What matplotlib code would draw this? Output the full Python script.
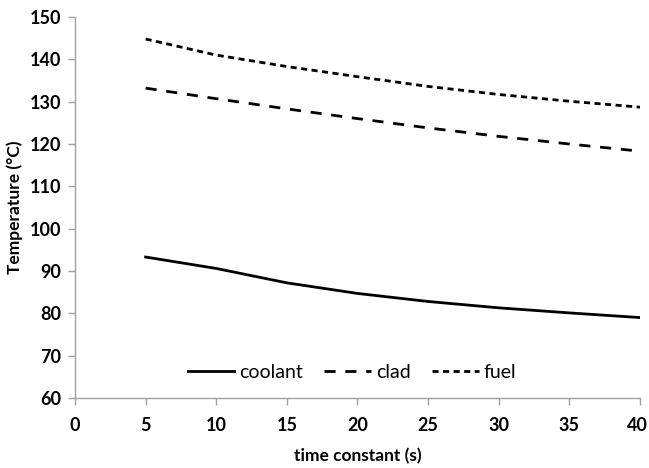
import matplotlib
matplotlib.use("Agg")
import matplotlib.pyplot as plt
from matplotlib.transforms import ScaledTranslation

time_constant = [5, 10, 15, 20, 25, 30, 35, 40]
coolant = [93.3, 90.6, 87.2, 84.7, 82.8, 81.3, 80.1, 79.0]
clad = [133.2, 130.7, 128.3, 126.0, 123.8, 121.8, 120.0, 118.3]
fuel = [144.8, 141.0, 138.3, 135.9, 133.6, 131.7, 130.1, 128.7]

x_ticks = [0, 5, 10, 15, 20, 25, 30, 35, 40]
y_ticks = [60, 70, 80, 90, 100, 110, 120, 130, 140, 150]

plt.rcParams['font.family'] = ['Lato', 'DejaVu Sans']

fig = plt.figure(figsize=(6.49, 4.68), dpi=100)
ax = fig.add_axes([75/649, 1 - 398/468, (640-75)/649, (398-17)/468])

lw = 2.0
ax.plot(time_constant, coolant, color='black', lw=lw, linestyle='-', label='coolant')
ax.plot(time_constant, clad, color='black', lw=lw, linestyle=(0, (4, 3.5)), label='clad')
ax.plot(time_constant, fuel, color='black', lw=lw, linestyle=(0, (2.2, 1.6)), label='fuel')

ax.set_xlim(0, 40)
ax.set_ylim(60, 150)
ax.set_xticks(x_ticks)
ax.set_yticks(y_ticks)
fs = 13
ax.set_xticklabels([str(v) for v in x_ticks], fontsize=fs, fontweight='bold')
ax.set_yticklabels([str(v) for v in y_ticks], fontsize=fs, fontweight='bold')

for s in ['top', 'right']:
    ax.spines[s].set_visible(False)
for s in ['left', 'bottom']:
    ax.spines[s].set_color('#a0a0a0')
    ax.spines[s].set_linewidth(1.0)
ax.tick_params(axis='both', colors='#a0a0a0', length=5, width=1.0, labelcolor='black')
ax.tick_params(axis='x', pad=9)
ax.tick_params(axis='y', pad=5)

# keep the last x tick label inside the figure edge
last = ax.get_xticklabels()[-1]
last.set_transform(last.get_transform() + ScaledTranslation(-3/100, 0, fig.dpi_scale_trans))

ax.set_xlabel('time constant (s)', fontsize=12.5, fontweight='bold', labelpad=10)
ax.set_ylabel('Temperature (°C)', fontsize=12.5, fontweight='bold', labelpad=5)

leg = ax.legend(loc='lower center', bbox_to_anchor=(0.49, 0.0), ncol=3, frameon=False,
                fontsize=14, handlelength=2.4, handletextpad=0.25, columnspacing=1.1)

fig.savefig('out.png', dpi=100)
